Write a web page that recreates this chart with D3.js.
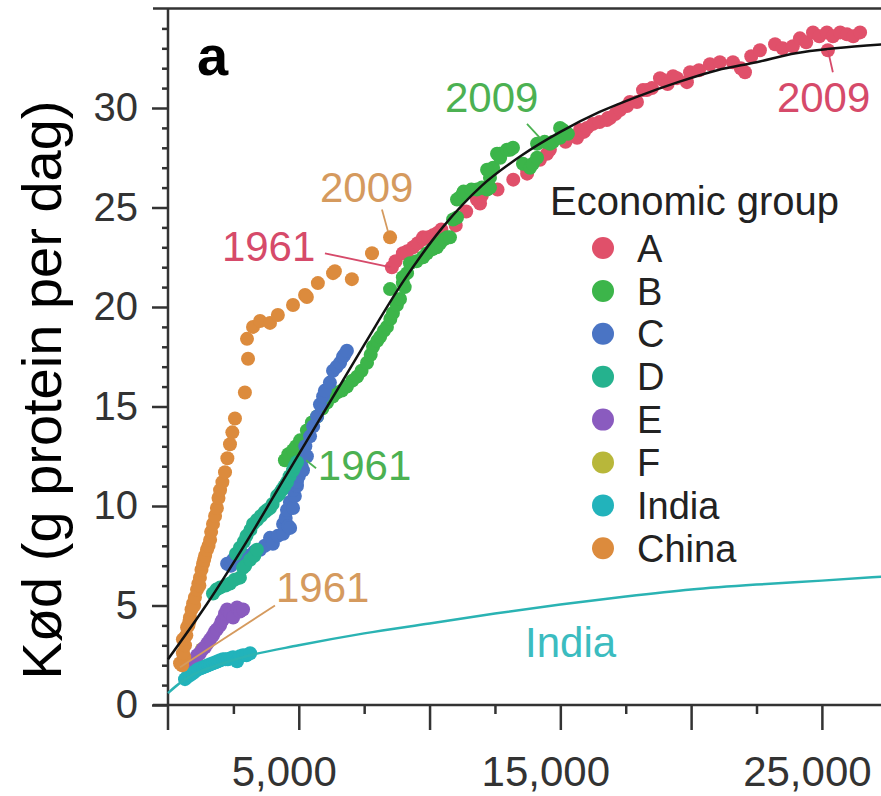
<!DOCTYPE html>
<html>
<head>
<meta charset="utf-8">
<script src="https://cdn.jsdelivr.net/npm/d3@7"></script>
<style>
  body { margin: 0; background: #fff; }
  svg { display: block; font-family: "Liberation Sans", Arial, sans-serif; }
</style>
</head>
<body>
<svg id="chart" width="881" height="796"></svg>
<script>
// Data: [GDP per capita, g protein per day]
const groupA = [[8560,22.0],[8700,22.3],[8980,22.7],[9150,22.8],[9370,23.0],[9550,23.2],[9750,23.4],[9750,23.5],[9950,23.5],[10130,23.6],[10280,23.7],[10450,23.9],[11000,24.1],[11400,24.8],[11810,25.4],[11930,25.2],[12000,25.6],[12600,25.9],[13200,26.4],[13730,26.7],[13730,26.9],[14220,27.4],[14490,27.7],[14600,27.9],[15200,28.3],[15640,28.5],[15750,28.9],[15900,28.8],[16020,29.0],[16250,29.2],[16500,29.3],[16780,29.4],[16820,29.5],[16900,29.5],[17100,29.7],[17280,29.9],[17550,30.1],[17660,30.3],[17930,30.3],[18160,30.9],[18310,30.9],[18500,31.0],[18810,31.5],[18920,31.4],[19100,31.2],[19310,31.6],[19460,31.5],[19840,31.3],[19960,31.8],[20300,31.9],[20720,32.2],[21100,32.3],[21600,32.3],[21900,32.0],[22060,31.8],[22300,32.6],[22630,32.9],[23210,33.2],[23500,33.0],[23890,33.1],[24160,33.5],[24400,33.3],[24660,33.8],[24900,33.6],[25190,33.8],[25420,33.6],[25700,33.8],[25960,33.7],[26200,33.6],[26460,33.8],[25230,32.9]];
const groupB = [[4470,12.3],[4600,12.6],[4780,12.8],[4900,13.0],[5050,12.5],[5050,13.3],[5310,13.8],[5500,14.2],[5700,14.5],[5900,14.9],[6080,15.2],[6300,15.5],[6460,15.7],[6650,15.8],[6840,16.0],[7050,16.3],[7230,16.5],[7400,16.8],[7610,17.2],[7750,17.6],[7840,18.0],[8000,18.3],[8110,18.5],[8250,18.8],[8370,19.0],[8500,19.4],[8600,19.7],[8750,20.1],[8490,20.9],[8870,20.4],[9050,21.0],[8980,21.2],[8980,21.5],[9140,21.7],[9250,22.2],[9500,22.3],[9750,22.5],[9900,22.7],[10100,22.9],[10280,23.0],[10400,23.2],[10550,23.4],[10670,23.5],[10780,23.5],[10900,24.4],[11050,24.5],[11050,25.4],[11160,25.5],[11280,25.7],[11300,25.8],[11600,25.9],[11810,25.9],[12000,26.0],[12200,25.9],[12310,26.0],[12310,26.5],[12430,27.0],[12200,26.9],[12580,27.7],[12690,27.7],[12700,27.5],[12960,27.9],[13080,27.9],[13190,28.0],[13570,27.2],[13840,27.0],[13950,27.2],[14110,27.5],[14110,28.2],[14400,28.3],[14600,28.2],[14720,28.3],[14990,28.5],[14990,29.0],[15100,28.9],[15290,28.7]];
const groupC = [[2260,7.1],[2400,7.0],[2490,7.3],[2750,7.4],[3000,7.5],[3300,7.7],[3520,7.8],[3700,8.0],[3900,8.4],[4010,8.1],[4200,8.5],[4400,8.6],[4400,9.1],[4500,9.4],[4600,9.0],[4550,9.8],[4670,8.9],[4660,10.2],[4780,9.9],[4850,10.5],[4780,10.8],[4930,11.0],[4930,11.2],[5000,11.5],[5100,12.0],[5160,11.8],[5250,13.0],[5310,12.5],[5430,13.5],[5550,14.0],[5700,14.5],[5810,15.1],[5930,15.5],[6000,15.8],[6190,16.2],[6310,16.8],[6450,17.0],[6580,17.2],[6690,17.5],[6750,17.6],[6840,17.8]];
const groupD = [[1720,5.6],[1850,5.8],[1990,5.9],[2200,6.0],[2370,6.1],[2550,6.3],[2750,6.4],[2870,6.9],[2950,7.0],[3140,7.3],[3300,7.5],[3400,7.8],[2600,7.6],[2750,7.9],[2900,8.2],[3000,8.5],[3150,8.8],[3250,9.1],[3400,9.3],[3550,9.5],[3700,9.7],[3790,9.8],[3900,9.9],[4000,10.1],[4170,10.5],[4250,10.6],[4350,10.8],[4450,11.0],[4550,11.2],[4650,11.5],[4780,11.8],[4850,12.0],[4930,12.2]];
const groupE = [[840,1.9],[920,2.1],[1030,2.3],[1120,2.5],[1220,2.6],[1320,2.8],[1410,2.9],[1510,3.1],[1610,3.3],[1720,3.5],[1800,3.7],[1870,3.8],[1990,4.0],[2050,4.2],[2100,4.3],[2180,4.6],[2260,4.8],[2380,4.6],[2490,4.4],[2640,4.9],[2750,4.7],[2870,4.8]];
const groupF = [[900,2.0],[1100,2.4],[1300,2.8]];
const groupIndia = [[650,1.3],[730,1.4],[850,1.5],[960,1.6],[1050,1.7],[1150,1.8],[1250,1.85],[1340,1.9],[1440,1.95],[1530,2.0],[1620,2.05],[1720,2.1],[1820,2.15],[1910,2.2],[2000,2.25],[2100,2.3],[2200,2.3],[2290,2.3],[2400,2.35],[2490,2.4],[2640,2.2],[2750,2.45],[2870,2.5],[3000,2.5],[3140,2.6]];
const groupChina = [[460,2.1],[540,2.0],[620,2.4],[570,2.6],[650,3.0],[570,3.3],[700,3.5],[730,3.9],[780,4.0],[820,4.2],[840,4.4],[900,4.8],[960,5.1],[1000,5.0],[1030,5.4],[1110,5.8],[1160,6.1],[1200,6.0],[1220,6.4],[1280,6.8],[1340,7.1],[1380,7.3],[1420,7.5],[1490,7.8],[1550,8.0],[1610,8.3],[1650,8.7],[1720,9.1],[1800,9.5],[1870,9.9],[1930,10.4],[1990,10.8],[2080,11.2],[2180,11.7],[2270,12.4],[2370,13.1],[2460,13.7],[2560,14.4],[2940,15.7],[3060,17.4],[3020,18.4],[3250,19.0],[3520,19.3],[3900,19.2],[4200,19.6],[4780,20.1],[5240,20.6],[5310,20.5],[5730,21.2],[6310,21.7],[6380,21.8],[7030,21.4],[7800,22.7],[8490,23.5]];

const fitAll = [[0,2.3],[1500,5.1],[3000,8.2],[4500,11.5],[6000,14.8],[7500,18.1],[9000,21.3],[10500,24.0],[12000,26.1],[13500,27.6],[15000,28.8],[16500,29.8],[18000,30.6],[19500,31.3],[21000,31.9],[22500,32.3],[24000,32.75],[25500,33.0],[27300,33.2]];
const fitIndia = [[0,0.6],[500,1.15],[1000,1.55],[2000,2.05],[3000,2.45],[5000,3.0],[7500,3.6],[10000,4.1],[12500,4.6],[15000,5.05],[17500,5.45],[20000,5.8],[22500,6.05],[25000,6.25],[27300,6.45]];

const legendLabels = ["A", "B", "C", "D", "E", "F", "India", "China"];
const legendColors = ["#e0506a", "#3cb54a", "#4a74c4", "#25b28e", "#8a5bbf", "#b8b73a", "#22b3bb", "#dc8b3d"];

const yMajorTicks = [0, 5, 10, 15, 20, 25, 30];
const xMajorTicks = [5000, 10000, 15000, 20000, 25000];
const xLabelTicks = [5000, 15000, 25000];
const xMinorTicks = [2500, 7500, 12500, 17500, 22500];

// year annotations: text anchor point + leader line, in data units
const notes = [
  { text: "2009", color: "#d59a5e", at: [5810, 25.3], from: [8180, 24.9], to: [8410, 23.8] },
  { text: "1961", color: "#d64a6a", at: [2060, 22.3], from: [6000, 22.7], to: [8490, 22.0] },
  { text: "2009", color: "#4cb152", at: [10590, 29.8], from: [13725, 29.2], to: [14220, 28.5] },
  { text: "1961", color: "#4cb152", at: [5730, 11.3], from: [5280, 12.3], to: [5660, 11.9] },
  { text: "1961", color: "#d59a5e", at: [4130, 5.2], from: [4090, 5.0], to: [460, 1.9] },
  { text: "2009", color: "#d64a6a", at: [23280, 29.8], from: [25230, 32.9], to: [25420, 31.8] },
];

const svg = d3.select("#chart");
const x = d3.scaleLinear().domain([0, 27260]).range([168, 881]);
const y = d3.scaleLinear().domain([0, 35]).range([705, 8.5]);
const axisColor = "#333";

// y axis
const yMinor = d3.range(1, 35).filter((d) => d % 5 !== 0);
svg.append("g")
  .attr("transform", "translate(168,0)")
  .call(d3.axisLeft(y).tickValues(yMinor).tickSize(6).tickFormat(""))
  .call((g) => g.select(".domain").remove());
svg.append("g")
  .attr("transform", "translate(168,0)")
  .call(d3.axisLeft(y).tickValues(yMajorTicks).tickSize(16).tickPadding(14))
  .call((g) => g.select(".domain").remove())
  .call((g) => g.selectAll("text").attr("font-size", 40).attr("fill", "#333").attr("font-family", "Liberation Sans, Arial"));

// x axis
svg.append("g")
  .attr("transform", "translate(0,705)")
  .call(d3.axisBottom(x).tickValues(xMinorTicks).tickSize(9).tickFormat(""))
  .call((g) => g.select(".domain").remove());
svg.append("g")
  .attr("transform", "translate(0,705)")
  .call(d3.axisBottom(x).tickValues(xMajorTicks).tickSize(25).tickPadding(26)
    .tickFormat((d) => (xLabelTicks.includes(d) ? d3.format(",")(d) : "")))
  .call((g) => g.select(".domain").remove())
  .call((g) => g.selectAll("text").attr("font-size", 42).attr("dx", -15).attr("fill", "#333").attr("font-family", "Liberation Sans, Arial"));

svg.selectAll(".tick line").attr("stroke", axisColor).attr("stroke-width", 2.5);

// frame lines
svg.append("line").attr("x1", 168).attr("x2", 168).attr("y1", y(35)).attr("y2", 730)
  .attr("stroke", axisColor).attr("stroke-width", 2.5);
svg.append("line").attr("x1", 153).attr("x2", 881).attr("y1", y(0)).attr("y2", y(0))
  .attr("stroke", axisColor).attr("stroke-width", 2.5);
svg.append("line").attr("x1", 153).attr("x2", 881).attr("y1", y(35)).attr("y2", y(35))
  .attr("stroke", axisColor).attr("stroke-width", 2.5);

// y title
svg.append("text")
  .attr("transform", "translate(61,390) rotate(-90)")
  .attr("text-anchor", "middle")
  .attr("font-size", 56)
  .attr("fill", "#000")
  .text("Kød (g protein per dag)");

// panel letter
svg.append("text")
  .attr("x", 197).attr("y", 75)
  .attr("font-size", 56).attr("font-weight", "bold")
  .text("a");

// points
const groups = [groupA, groupB, groupC, groupD, groupF, groupE, groupIndia, groupChina];
const order = [0, 1, 2, 3, 5, 4, 6, 7];
const dots = svg.append("g");
groups.forEach((pts, i) => {
  dots.append("g")
    .attr("fill", legendColors[order[i]])
    .selectAll("circle")
    .data(pts)
    .join("circle")
    .attr("cx", (d) => x(d[0]))
    .attr("cy", (d) => y(d[1]))
    .attr("r", 7);
});

// fitted curves
const line = d3.line().x((d) => x(d[0])).y((d) => y(d[1])).curve(d3.curveMonotoneX);
svg.append("path").datum(fitIndia).attr("d", line)
  .attr("fill", "none").attr("stroke", "#2ab3b3").attr("stroke-width", 2.5);
svg.append("path").datum(fitAll).attr("d", line)
  .attr("fill", "none").attr("stroke", "#111").attr("stroke-width", 2.5);

// annotations
notes.forEach((n) => {
  svg.append("line")
    .attr("x1", x(n.from[0])).attr("y1", y(n.from[1]))
    .attr("x2", x(n.to[0])).attr("y2", y(n.to[1]))
    .attr("stroke", n.color).attr("stroke-width", 1.8);
  svg.append("text")
    .attr("x", x(n.at[0])).attr("y", y(n.at[1]))
    .attr("font-size", 42).attr("fill", n.color)
    .text(n.text);
});
svg.append("text")
  .attr("x", x(13650)).attr("y", y(2.4))
  .attr("font-size", 42).attr("fill", "#3bbcc0")
  .text("India");

// legend
const legend = svg.append("g");
legend.append("text")
  .attr("x", 550).attr("y", 215)
  .attr("font-size", 40).attr("fill", "#222")
  .text("Economic group");
const item = legend.selectAll("g.item")
  .data(legendLabels)
  .join("g")
  .attr("class", "item")
  .attr("transform", (d, i) => `translate(603,${248 + i * 42.9})`);
item.append("circle").attr("r", 11).attr("fill", (d, i) => legendColors[i]);
item.append("text")
  .attr("x", 34).attr("dy", "0.36em")
  .attr("font-size", 38).attr("fill", "#222")
  .text((d) => d);
</script>
</body>
</html>
